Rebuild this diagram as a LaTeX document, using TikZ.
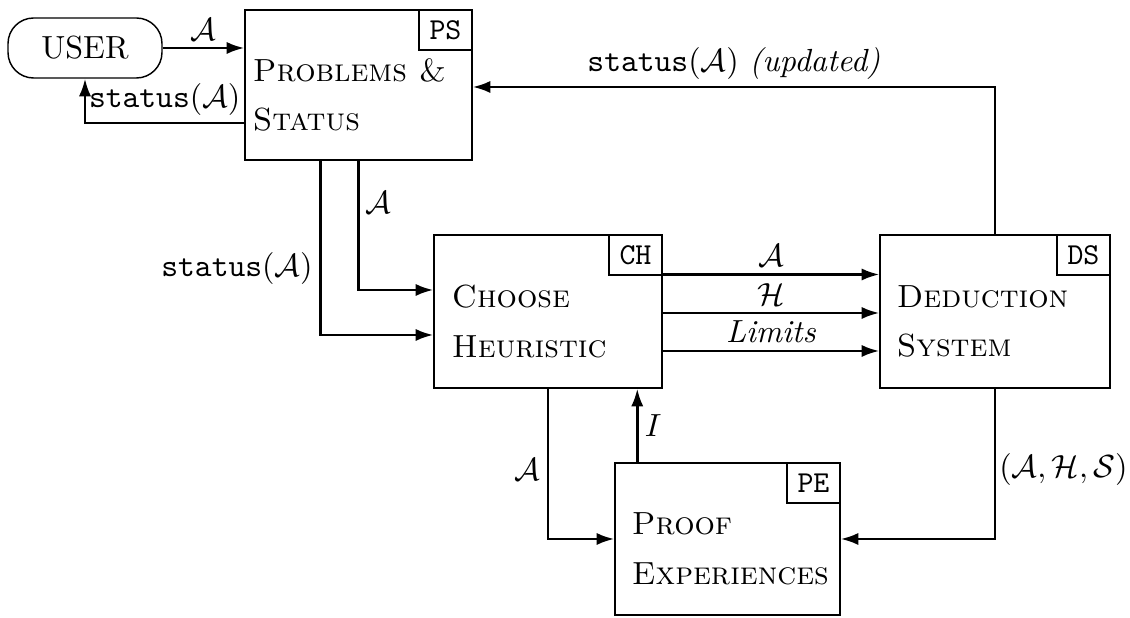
\documentclass[tikz,border=0pt]{standalone}
\usetikzlibrary{calc,arrows.meta}
\begin{document}
\begin{tikzpicture}[x=0.3125pt,y=-0.3125pt,
  box/.style={draw, line width=0.45pt, inner sep=0pt},
  tagbox/.style={draw, line width=0.45pt, inner sep=0pt, minimum width={53*0.3125pt}, minimum height={40*0.3125pt}, font=\fontsize{9.5}{11}\selectfont\ttfamily},
  boxtext/.style={anchor=west, align=left, inner sep=0pt, font=\scshape, execute at begin node=\setlength{\baselineskip}{15.5pt}},
  arr/.style={line width=0.8pt, -{Latex[length=5.5pt,width=3.8pt]}},
  lbl/.style={inner sep=2pt}]
\useasboundingbox (0,0) rectangle (1130,618);
% USER
\node[draw, line width=0.45pt, rounded corners=8pt, minimum width={154*0.3125pt}, minimum height={60*0.3125pt}, inner sep=0pt] (user) at (85,48) {USER};
% boxes
\node[box, minimum width={227*0.3125pt}, minimum height={150*0.3125pt}] (ps) at (358.5,85) {};
\node[box, minimum width={228*0.3125pt}, minimum height={153*0.3125pt}] (ch) at (548,311.5) {};
\node[box, minimum width={230*0.3125pt}, minimum height={153*0.3125pt}] (ds) at (995,311.5) {};
\node[box, minimum width={225*0.3125pt}, minimum height={152*0.3125pt}] (pe) at (727.5,539) {};
% tags
\node[tagbox, anchor=north east] (pstag) at (ps.north east) {PS};
\node[tagbox, anchor=north east] (chtag) at (ch.north east) {CH};
\node[tagbox, anchor=north east] (dstag) at (ds.north east) {DS};
\node[tagbox, anchor=north east] (petag) at (pe.north east) {PE};
% texts
\node[boxtext] (pstext) at ($(ps.west)+(8,10)$) {Problems \&\\Status};
\node[boxtext] (chtext) at ($(ch.west)+(18,10)$) {Choose\\Heuristic};
\node[boxtext] (dstext) at ($(ds.west)+(17,10)$) {Deduction\\System};
\node[boxtext] (petext) at ($(pe.west)+(17,10)$) {Proof\\Experiences};
% connectors
\draw[arr] (user.east) -- (user.east -| ps.west) node[lbl, above, midway] {$\mathcal{A}$};
\draw[arr] ($(ps.west)+(0,38)$) -| (user.south) node[lbl, above, pos=0.25] {\texttt{status}$(\mathcal{A})$};
\draw[arr] (ds.north) |- ($(ps.east)+(0,2)$) node[lbl, above, pos=0.75] {\texttt{status}$(\mathcal{A})$ \textit{(updated)}};
\draw[arr] ($(ps.south west)+(76,0)$) |- ($(ch.west)+(0,23.5)$) node[lbl, left, pos=0.31] {\texttt{status}$(\mathcal{A})$};
\draw[arr] ($(ps.south west)+(114,0)$) |- ($(ch.west)+(0,-21.5)$) node[lbl, right, pos=0.16] {$\mathcal{A}$};
\draw[arr] ($(ch.east)+(0,-37)$) -- ($(ds.west)+(0,-37)$) node[lbl, above, midway] {$\mathcal{A}$};
\draw[arr] ($(ch.east)+(0,1.5)$) -- ($(ds.west)+(0,1.5)$) node[lbl, above, midway] {$\mathcal{H}$};
\draw[arr] ($(ch.east)+(0,39.5)$) -- ($(ds.west)+(0,39.5)$) node[lbl, above, midway] {\textit{Limits}};
\draw[arr] (ch.south) |- (pe.west) node[lbl, left, pos=0.27] {$\mathcal{A}$};
\coordinate (i0) at ($(pe.north west)+(23,0)$);
\draw[arr] (i0) -- (i0 |- ch.south) node[lbl, right, midway] {$I$};
\draw[arr] (ds.south) |- (pe.east) node[lbl, right, pos=0.27, inner sep=1pt] {$(\mathcal{A},\mathcal{H},\mathcal{S})$};
\end{tikzpicture}
\end{document}
